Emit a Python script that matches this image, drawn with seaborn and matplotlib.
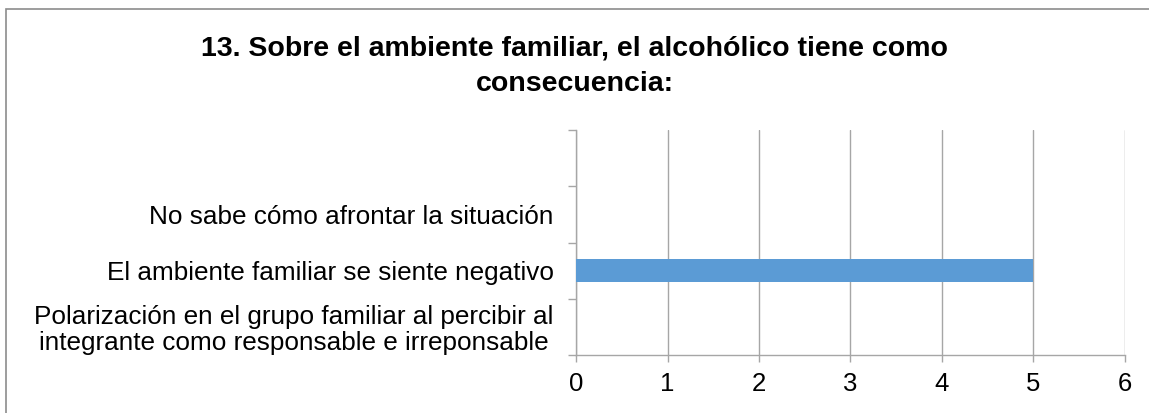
import matplotlib
matplotlib.use("Agg")
import matplotlib.pyplot as plt
import seaborn as sns
import pandas as pd
from matplotlib.patches import Rectangle

categories = ["", "No sabe cómo afrontar la situación",
              "El ambiente familiar se siente negativo",
              "Polarización en el grupo familiar al percibir al\nintegrante como responsable e irreponsable"]
values = [0, 0, 5, 0]
title = "13. Sobre el ambiente familiar, el alcohólico tiene como\nconsecuencia:"
xticks = [0, 1, 2, 3, 4, 5, 6]

sns.set_theme(style="white")
plt.rcParams['font.family'] = ['Liberation Sans', 'DejaVu Sans']

fig = plt.figure(figsize=(11.49, 4.13), dpi=100)
ax = fig.add_axes([576/1149, 1-355/413, (1125-576)/1149, (355-130)/413])

df = pd.DataFrame({"cat": categories, "val": values})
sns.barplot(data=df, y="cat", x="val", order=categories, orient="h",
            color="#5B9BD5", width=0.4, saturation=1, ax=ax,
            linewidth=0, zorder=3)

ax.set_xlim(0, 6)
ax.set_ylim(3.5, -0.5)
ax.set_xticks(xticks)
ax.set_xticklabels([str(t) for t in xticks], fontsize=18.5, color="#000000")
ax.set_xlabel("")
ax.set_ylabel("")
ax.tick_params(axis="x", length=5, width=1, color="#A6A6A6", pad=7, direction="out", bottom=True)
ax.set_yticks(range(len(categories)))
ax.set_yticklabels(categories, fontsize=18.8, color="#000000", multialignment="center",
                   linespacing=1.1)
ax.tick_params(axis="y", which="major", length=0, pad=16, left=False)
ax.set_yticks([-0.5, 0.5, 1.5, 2.5, 3.5], minor=True)
ax.tick_params(axis="y", which="minor", length=6, width=1, color="#A6A6A6", direction="out", left=True)

ax.grid(axis="x", color="#A6A6A6", linewidth=1, zorder=0)
ax.grid(axis="y", visible=False)
ax.set_axisbelow(True)
for s in ["top", "right"]:
    ax.spines[s].set_visible(False)
for s in ["left", "bottom"]:
    ax.spines[s].set_color("#A6A6A6")
    ax.spines[s].set_linewidth(1)

fig.text(0.5, 1-66/413, title, ha="center", va="center", fontsize=20.5, fontweight="bold",
         linespacing=1.5, color="#000000")

fig.patches.append(Rectangle((6/1149, -0.5), 1.5, 1.5 - 9/413, transform=fig.transFigure,
                             fill=False, edgecolor="#8C8C8C", linewidth=1.2))

fig.savefig("out.png", dpi=100)
